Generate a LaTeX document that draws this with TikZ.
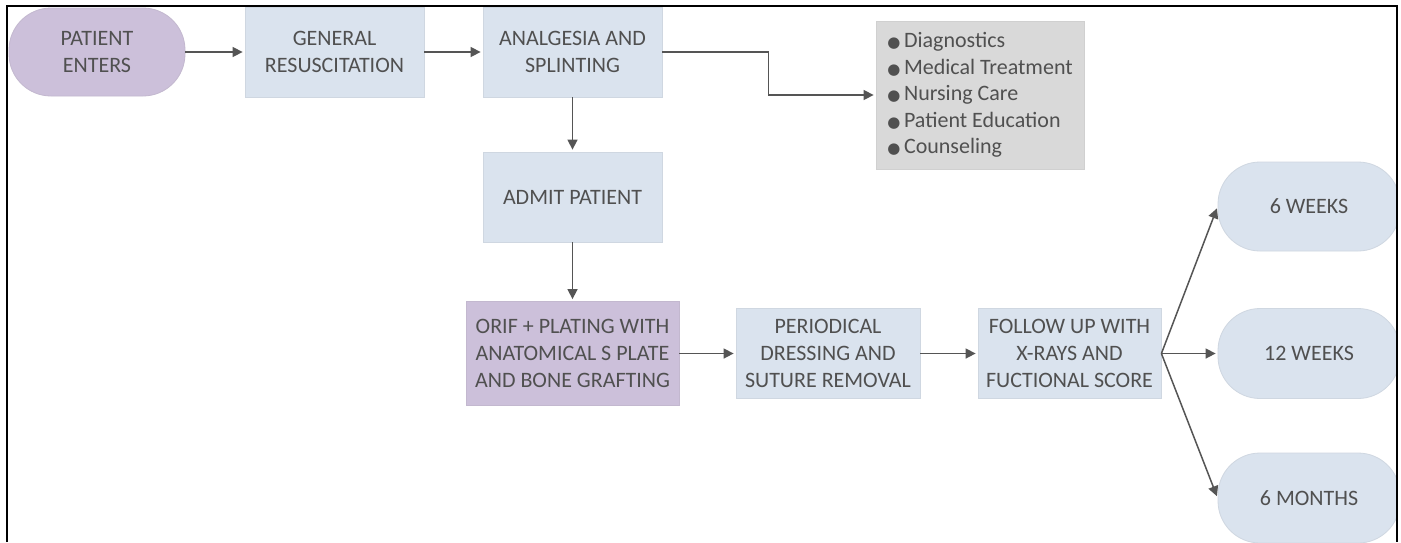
\documentclass[tikz,border=0pt]{standalone}
\usepackage{fontspec}
\setmainfont{Carlito}
\newfontfamily\dejavu{DejaVu Sans}
\usetikzlibrary{arrows.meta}
\definecolor{txt}{HTML}{505050}
\definecolor{bluef}{HTML}{DAE3EE}
\definecolor{purpf}{HTML}{CCC0DA}
\definecolor{grayf}{HTML}{D9D9D9}
\definecolor{arrc}{HTML}{555555}
\newcommand{\mybul}{{\dejavu\fontsize{7.5}{7.5}\selectfont ●}\,}
\begin{document}
\begin{tikzpicture}[x=0.5pt,y=-0.5pt,
  base/.style={text=txt, font=\fontsize{11}{13.3}\selectfont, align=center, inner sep=0pt, line width=0.4pt},
  bluebox/.style={base, fill=bluef, draw=bluef!88!gray},
  purpbox/.style={base, fill=purpf, draw=purpf!88!gray},
  graybox/.style={base, fill=grayf, draw=grayf!90!gray, align=left},
  bluepill/.style={bluebox, rounded corners=21pt},
  purppill/.style={purpbox, rounded corners=21pt},
  arr/.style={draw=arrc, line width=0.75pt, -{Triangle[length=5pt,width=5pt]}, shorten >=1pt}
]
\useasboundingbox (0,0) rectangle (1401,542);
\fill[white] (0,0) rectangle (1401,542);

\node[purppill, minimum width=88pt, minimum height=44pt] (pe) at (97,52) {PATIENT\\ENTERS};
\node[bluebox, minimum width=89.5pt, minimum height=45pt] (gr) at (334.5,52) {GENERAL\\RESUSCITATION};
\node[bluebox, minimum width=89.5pt, minimum height=45pt] (an) at (572.5,52) {ANALGESIA AND\\SPLINTING};
\node[bluebox, minimum width=89.5pt, minimum height=45pt] (ad) at (572.5,197) {ADMIT PATIENT};
\node[purpbox, minimum width=106.5pt, minimum height=52pt] (orif) at (572.5,353.5) {ORIF + PLATING WITH\\ANATOMICAL S PLATE\\AND BONE GRAFTING};
\node[bluebox, minimum width=92pt, minimum height=45pt] (per) at (828,353.5) {PERIODICAL\\DRESSING AND\\SUTURE REMOVAL};
\node[bluebox, minimum width=91.5pt, minimum height=45pt] (fu) at (1069.5,353.5) {FOLLOW UP WITH\\X-RAYS AND\\FUCTIONAL SCORE};
\node[graybox, minimum width=104pt, minimum height=74pt] (gb) at (980,95) {\mybul Diagnostics\\\mybul Medical Treatment\\\mybul Nursing Care\\\mybul Patient Education\\\mybul Counseling};

\begin{scope}
\clip (0,0) rectangle (1397,542);
\node[bluepill, minimum width=91pt, minimum height=44.5pt] (w6) at (1309,206.5) {6 WEEKS};
\node[bluepill, minimum width=91pt, minimum height=45pt] (w12) at (1309,353.5) {12 WEEKS};
\node[bluepill, minimum width=91pt, minimum height=45pt] (m6) at (1309,498) {6 MONTHS};
\end{scope}

\draw[arr] (pe.east) -- (gr.west);
\draw[arr] (gr.east) -- (an.west);
\draw[arr] (an.east) -- ++(53pt,0) |- (gb.west);
\draw[arr] (an.south) -- (ad.north);
\draw[arr] (ad.south) -- (orif.north);
\draw[arr] (orif.east) -- (per.west);
\draw[arr] (per.east) -- (fu.west);
\draw[arr] (fu.east) -- (w6.west);
\draw[arr] (fu.east) -- (w12.west);
\draw[arr] (fu.east) -- (m6.west);

\draw[black, line width=1pt] (7,542) -- (7,6) -- (1397,6) -- (1397,542);
\end{tikzpicture}
\end{document}
